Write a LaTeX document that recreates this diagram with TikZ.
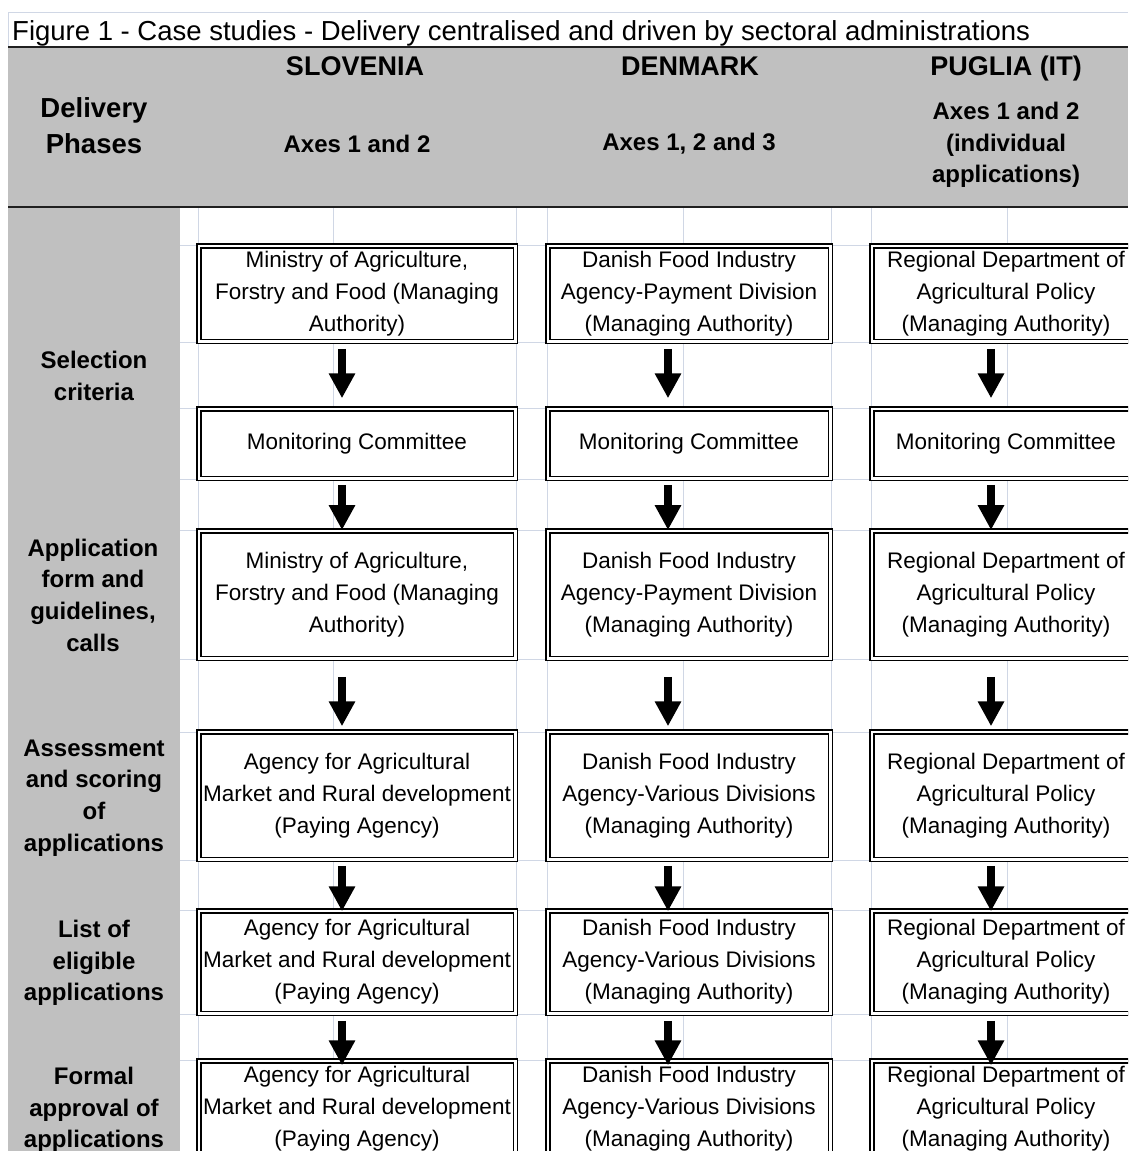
\documentclass[tikz,border=0pt]{standalone}
\usepackage{fontspec}
\setmainfont{Liberation Sans}
\usetikzlibrary{arrows.meta}
\definecolor{gridc}{HTML}{D0D7E5}
\definecolor{hdrgrey}{HTML}{C0C0C0}
\definecolor{darkline}{HTML}{202020}
\begin{document}
\begin{tikzpicture}[x=1pt,y=-1pt,
  box/.style={draw, double, line width=1.5pt, double distance=2.5pt, fill=white, inner sep=0pt, align=center, font=\fontsize{22.5}{32}\selectfont},
  arr/.style={line width=7.5pt, -{Triangle[width=25pt,length=25pt]}},
  gridln/.style={gridc, line width=1pt},
  sepline/.style={darkline, line width=2pt},
  hdr/.style={font=\bfseries\fontsize{27}{36}\selectfont, inner sep=0pt},
  sub/.style={font=\bfseries\fontsize{24}{31.5}\selectfont, align=center, inner sep=0pt},
  phase/.style={font=\bfseries\fontsize{24}{31.7}\selectfont, align=center, inner sep=0pt},
  colS/.style={minimum width=316.5pt},
  colD/.style={minimum width=282.5pt},
  colP/.style={minimum width=268.5pt}]
\useasboundingbox (0,0) rectangle (1128,1151);
\clip (0,0) rectangle (1128,1151);
\fill[white] (0,0) rectangle (1128,1151);
% spreadsheet grid
\foreach \gx in {198,333,516,547,683,831,871,1007}
  \draw[gridln] (\gx,207) -- (\gx,1151);
\foreach \gy in {245,342,408,479,530,659,732,860,910,1014,1060}
  \draw[gridln] (180,\gy) -- (1128,\gy);
\draw[gridln] (8,12) -- (1128,12);
\draw[gridln] (8,12) -- (8,1151);
% grey areas
\fill[hdrgrey] (8,47) rectangle (1128,207);
\fill[hdrgrey] (8,207) rectangle (180,1151);
\draw[sepline] (8,47) -- (1128,47);
\draw[sepline] (8,207) -- (1128,207);
% title
\node[anchor=base west, inner sep=0pt, font=\fontsize{27.5}{34}\selectfont] (title) at (12,40) {Figure 1 - Case studies - Delivery centralised and driven by sectoral administrations};
% headers
\node[hdr, anchor=base] (hS) at (355,75) {SLOVENIA};
\node[hdr, anchor=base] (hD) at (690,75) {DENMARK};
\node[hdr, anchor=base] (hP) at (1006,75) {PUGLIA (IT)};
\node[font=\bfseries\fontsize{27.5}{36}\selectfont, align=center, inner sep=0pt] (hPh) at (94,126) {Delivery\\Phases};
\node[sub] (aS) at (357,144) {Axes 1 and 2};
\node[sub] (aD) at (689,144) {Axes 1, 2 and 3};
\node[sub] (aP) at (1006,145) {Axes 1 and 2\\(individual\\applications)};
% phase labels
\node[phase] (ph1) at (94,376) {Selection\\criteria};
\node[phase] (ph2) at (93,595) {Application\\form and\\guidelines,\\calls};
\node[phase] (ph3) at (94,798) {Assessment\\and scoring\\of\\applications};
\node[phase] (ph4) at (94,963) {List of\\eligible\\applications};
\node[phase] (ph5) at (94,1110) {Formal\\approval of\\applications};
% Slovenia
\node[box, colS, minimum height=95.5pt] (s1) at (357,293.5) {Ministry of Agriculture,\\Forstry and Food (Managing\\Authority)};
\node[box, colS, minimum height=69.5pt] (s2) at (357,443.5) {Monitoring Committee};
\node[box, colS, minimum height=127.5pt] (s3) at (357,594.5) {Ministry of Agriculture,\\Forstry and Food (Managing\\Authority)};
\node[box, colS, minimum height=127.5pt] (s4) at (357,795.5) {Agency for Agricultural\\Market and Rural development\\(Paying Agency)};
\node[box, colS, minimum height=102.5pt] (s5) at (357,962) {Agency for Agricultural\\Market and Rural development\\(Paying Agency)};
\node[box, colS, minimum height=96.5pt] (s6) at (357,1109) {Agency for Agricultural\\Market and Rural development\\(Paying Agency)};
% Denmark
\node[box, colD, minimum height=95.5pt] (d1) at (689,293.5) {Danish Food Industry\\Agency-Payment Division\\(Managing Authority)};
\node[box, colD, minimum height=69.5pt] (d2) at (689,443.5) {Monitoring Committee};
\node[box, colD, minimum height=127.5pt] (d3) at (689,594.5) {Danish Food Industry\\Agency-Payment Division\\(Managing Authority)};
\node[box, colD, minimum height=127.5pt] (d4) at (689,795.5) {Danish Food Industry\\Agency-Various Divisions\\(Managing Authority)};
\node[box, colD, minimum height=102.5pt] (d5) at (689,962) {Danish Food Industry\\Agency-Various Divisions\\(Managing Authority)};
\node[box, colD, minimum height=96.5pt] (d6) at (689,1109) {Danish Food Industry\\Agency-Various Divisions\\(Managing Authority)};
% Puglia
\node[box, colP, minimum height=95.5pt] (p1) at (1006,293.5) {Regional Department of\\Agricultural Policy\\(Managing Authority)};
\node[box, colP, minimum height=69.5pt] (p2) at (1006,443.5) {Monitoring Committee};
\node[box, colP, minimum height=127.5pt] (p3) at (1006,594.5) {Regional Department of\\Agricultural Policy\\(Managing Authority)};
\node[box, colP, minimum height=127.5pt] (p4) at (1006,795.5) {Regional Department of\\Agricultural Policy\\(Managing Authority)};
\node[box, colP, minimum height=102.5pt] (p5) at (1006,962) {Regional Department of\\Agricultural Policy\\(Managing Authority)};
\node[box, colP, minimum height=96.5pt] (p6) at (1006,1109) {Regional Department of\\Agricultural Policy\\(Managing Authority)};
% arrows
\foreach \c/\dx in {s/-15,d/-21,p/-15}
  \foreach \a/\b/\sa/\sb in {1/2/6.75/9.75, 2/3/5.75/0, 3/4/17.75/4.75, 4/5/5.75/-1.25, 5/6/6.75/-5.25}
    \draw[arr, shorten <=\sa pt, shorten >=\sb pt] ([xshift=\dx pt]\c\a.south) -- ([xshift=\dx pt]\c\b.north);
\end{tikzpicture}
\end{document}
